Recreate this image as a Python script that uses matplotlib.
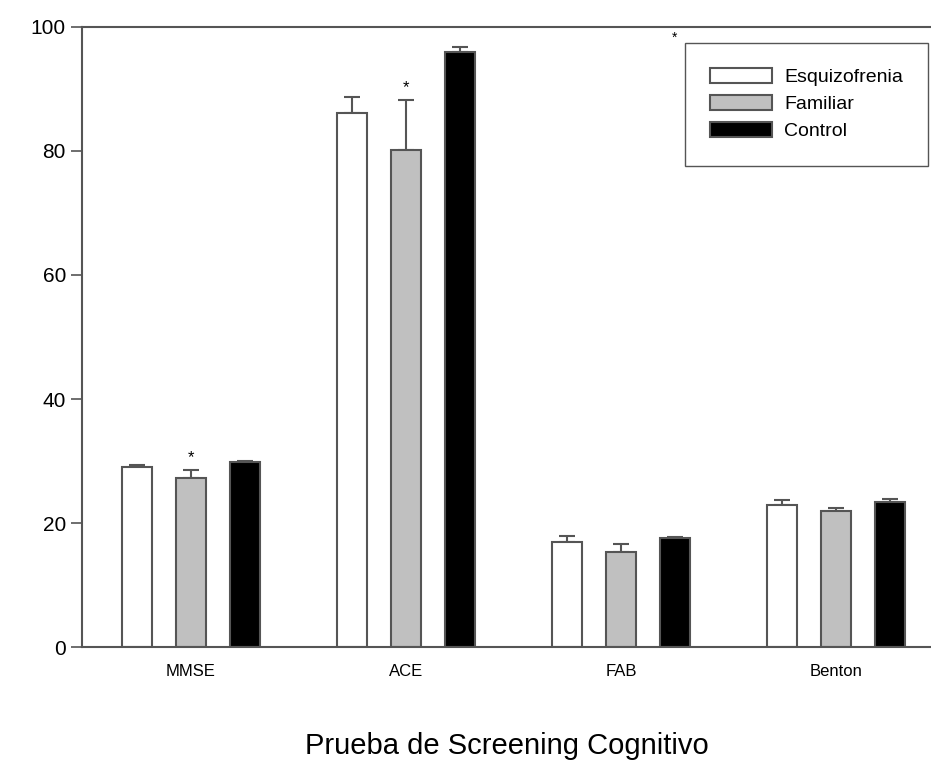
import matplotlib.pyplot as plt
import numpy as np

plt.rcParams['font.family'] = ['Liberation Sans', 'DejaVu Sans']

tests = ["MMSE", "ACE", "FAB", "Benton"]
groups = ["Esquizofrenia", "Familiar", "Control"]

esquizofrenia = [29.0, 86.1, 16.9, 22.9]
esquizofrenia_err = [0.3, 2.6, 1.0, 0.8]
familiar = [27.3, 80.2, 15.3, 21.9]
familiar_err = [1.2, 8.0, 1.3, 0.6]
control = [29.8, 96.0, 17.6, 23.4]
control_err = [0.2, 0.8, 0.2, 0.5]

fig = plt.figure(figsize=(9.31, 7.65), dpi=100)
ax = fig.add_axes([0.088, 0.154, 0.912, 0.811])

x = np.arange(len(tests))
width = 0.14
offset = 0.251
edge = "#555555"

series = [
    (esquizofrenia, esquizofrenia_err, "white"),
    (familiar, familiar_err, "#c0c0c0"),
    (control, control_err, "black"),
]
for k, (vals, errs, col) in enumerate(series):
    pos = x + (k - 1) * offset
    ax.bar(pos, vals, width, color=col, edgecolor=edge, linewidth=1.5,
           label=groups[k], zorder=2)
    ax.errorbar(pos, vals, yerr=[np.zeros(len(vals)), errs], fmt="none",
                ecolor=edge, elinewidth=1.5, capsize=6, capthick=1.5, zorder=1)

# significance marks
ax.text(x[0], familiar[0] + familiar_err[0] + 2, "*", ha="center", va="center", fontsize=12)
ax.text(x[1], familiar[1] + familiar_err[1] + 2, "*", ha="center", va="center", fontsize=12)

ax.set_xlim(-0.507, 3.44)
ax.set_ylim(0, 100)
ax.set_yticks([0, 20, 40, 60, 80, 100])
ax.set_xticks(x, labels=tests)
ax.tick_params(axis="x", length=0, labelsize=12, pad=12)
ax.tick_params(axis="y", length=8, width=1.2, color=edge, labelsize=15, direction="out")
for s in ["left", "bottom", "top"]:
    ax.spines[s].set_color(edge)
    ax.spines[s].set_linewidth(1.5)
ax.spines["right"].set_visible(False)

ax.set_xlabel("Prueba de Screening Cognitivo", fontsize=21, labelpad=38)

leg = ax.legend(loc="upper right", bbox_to_anchor=(0.9965, 0.974), borderaxespad=0,
                fancybox=False, edgecolor=edge, fontsize=14, handlelength=3.2,
                handleheight=0.8, borderpad=1.3, labelspacing=0.45, handletextpad=0.6,
                framealpha=1)
leg.get_frame().set_linewidth(1.0)
ax.text(0.698, 0.983, "*", transform=ax.transAxes, ha="center", va="center", fontsize=10)

fig.savefig("out.png", dpi=100)
